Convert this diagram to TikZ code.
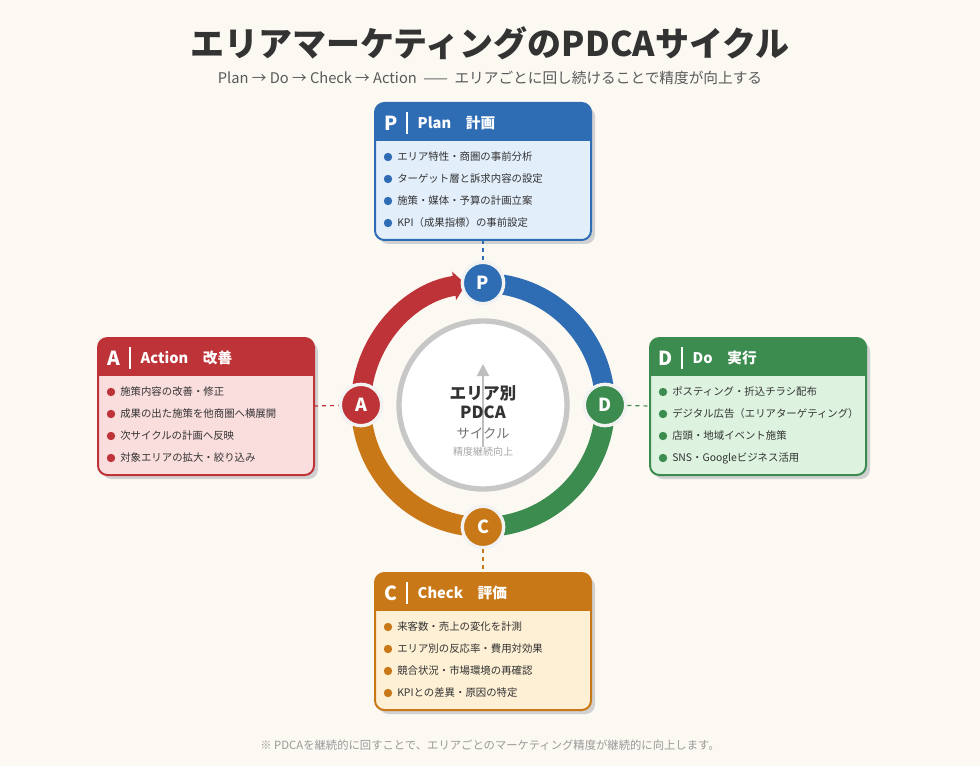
\documentclass[tikz,border=0pt]{standalone}
\usepackage{fontspec}
\setmainfont{Noto Sans CJK JP}
\usetikzlibrary{arrows.meta,calc}
\definecolor{bgcol}{HTML}{FCF8F2}
\definecolor{pblue}{HTML}{2E6DB4}
\definecolor{pbluel}{HTML}{E3EEFB}
\definecolor{dgreen}{HTML}{3D8C4F}
\definecolor{dgreenl}{HTML}{DDF3E0}
\definecolor{corange}{HTML}{C97818}
\definecolor{corangel}{HTML}{FDF0D5}
\definecolor{ared}{HTML}{BE3338}
\definecolor{aredl}{HTML}{FADDDD}
\definecolor{inkcol}{HTML}{333333}
\tikzset{
  ring/.style={line width=15pt},
  badge/.style={circle, draw=white!90!gray, line width=2.5pt, minimum size=31pt,
    text=white, font=\bfseries\fontsize{13.5}{14}\selectfont, inner sep=0pt},
  link/.style={dashed, line width=0.9pt, dash pattern=on 3pt off 3pt},
  item/.style={anchor=west, font=\fontsize{7.8}{8}\selectfont, text=inkcol, inner sep=0pt}
}
% card: name, left x, top y, colour, light colour, letter, title, items
\newcommand\pdcacard[8]{
  \fill[black!18, rounded corners=7pt] (#2+4,#3+4) rectangle (#2+220,#3+141);
  \begin{scope}
    \clip[rounded corners=7pt] (#2,#3) rectangle (#2+216,#3+137);
    \fill[#5] (#2,#3) rectangle (#2+216,#3+137);
    \fill[#4] (#2,#3) rectangle (#2+216,#3+38);
  \end{scope}
  \draw[#4, line width=1.5pt, rounded corners=7pt] (#2,#3) rectangle (#2+216,#3+137);
  \coordinate (#1-top) at (#2+108,#3);
  \coordinate (#1-bot) at (#2+108,#3+137);
  \coordinate (#1-left) at (#2,#3+68);
  \coordinate (#1-right) at (#2+216,#3+68);
  \node[text=white, font=\bfseries\fontsize{14.5}{15}\selectfont] (#1-letter) at (#2+16,#3+20) {#6};
  \draw[white, line width=0.8pt] (#2+32,#3+9) -- (#2+32,#3+31);
  \node[anchor=west, text=white, font=\bfseries\fontsize{11}{12}\selectfont] (#1-title) at (#2+38,#3+20) {#7};
  \foreach \t [count=\i] in {#8}{
    \fill[#4] (#2+13,#3+32+22*\i) circle[radius=4.2];
    \node[item] at (#2+22,#3+32+22*\i) {\t};
  }
}
\begin{document}
\begin{tikzpicture}[x=0.75pt, y=-0.75pt]
\fill[bgcol] (0,0) rectangle (980,766);
\useasboundingbox (0,0) rectangle (980,766);
% title
\node[font=\bfseries\fontsize{25.5}{27}\selectfont, text=inkcol] (title) at (490,43) {エリアマーケティングのPDCAサイクル};
\node[font=\fontsize{11}{12}\selectfont, text=black!65] (subtitle) at (490,78)
  {Plan → Do → Check → Action \ —— \ エリアごとに回し続けることで精度が向上する};
\node[font=\fontsize{8.5}{10}\selectfont, text=black!40] (note) at (490,745)
  {※ PDCAを継続的に回すことで、エリアごとのマーケティング精度が継続的に向上します。};
% cards
\pdcacard{plan}{375}{103}{pblue}{pbluel}{P}{Plan\quad 計画}
  {エリア特性・商圏の事前分析, ターゲット層と訴求内容の設定, 施策・媒体・予算の計画立案, KPI（成果指標）の事前設定}
\pdcacard{do}{650}{338}{dgreen}{dgreenl}{D}{Do\quad 実行}
  {ポスティング・折込チラシ配布, デジタル広告（エリアターゲティング）, 店頭・地域イベント施策, SNS・Googleビジネス活用}
\pdcacard{act}{98}{338}{ared}{aredl}{A}{Action\quad 改善}
  {施策内容の改善・修正, 成果の出た施策を他商圏へ横展開, 次サイクルの計画へ反映, 対象エリアの拡大・絞り込み}
\pdcacard{chk}{375}{573}{corange}{corangel}{C}{Check\quad 評価}
  {来客数・売上の変化を計測, エリア別の反応率・費用対効果, 競合状況・市場環境の再確認, KPIとの差異・原因の特定}
% ring
\coordinate (ctr) at (483,405);
\draw[ring, pblue] ($(ctr)+(-81:122)$) arc[start angle=-81, end angle=-9, radius=122];
\draw[ring, dgreen] ($(ctr)+(9:122)$) arc[start angle=9, end angle=81, radius=122];
\draw[ring, corange] ($(ctr)+(99:122)$) arc[start angle=99, end angle=171, radius=122];
\draw[ring, ared, -{Triangle[length=9pt, width=21pt]}] ($(ctr)+(189:122)$) arc[start angle=189, end angle=262, radius=122];
% centre
\fill[white] (ctr) circle[radius=84];
\draw[black!22, line width=4pt] (ctr) circle[radius=84];
\draw[black!25, line width=1.5pt, -{Triangle[length=9pt, width=9pt]}] (483,447) -- (483,364);
\node[font=\bfseries\fontsize{12.5}{14.5}\selectfont, text=inkcol, align=center] (ctitle) at (483,402) {エリア別\\PDCA};
\node[font=\fontsize{10}{11}\selectfont, text=black!55] (csub) at (483,433) {サイクル};
\node[font=\fontsize{7.5}{9}\selectfont, text=black!35] (cnote) at (483,452) {精度継続向上};
% badges
\node[badge, fill=pblue] (p) at (483,283) {P};
\node[badge, fill=dgreen] (d) at (605,405) {D};
\node[badge, fill=corange] (c) at (483,527) {C};
\node[badge, fill=ared] (a) at (361,405) {A};
% links
\draw[link, pblue] (plan-bot) -- (p);
\draw[link, dgreen] (d) -- (do-left);
\draw[link, corange] (c) -- (chk-top);
\draw[link, ared] (act-right) -- (a);
\end{tikzpicture}
\end{document}
